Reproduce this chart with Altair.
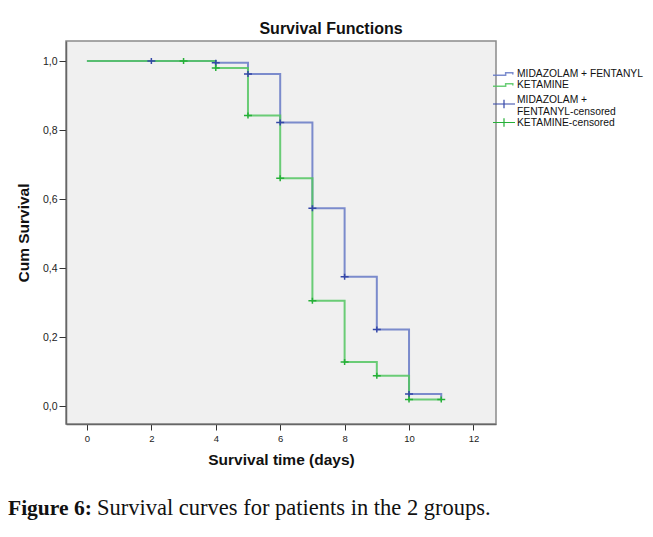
import altair as alt
import pandas as pd

# ---- data ----
series_names = ["MIDAZOLAM + FENTANYL", "KETAMINE"]
censor_names = ["MIDAZOLAM + FENTANYL-censored", "KETAMINE-censored"]

mf_time = [0, 4, 5, 6, 7, 8, 9, 10, 11]
mf_surv = [1.0, 0.995, 0.962, 0.822, 0.573, 0.375, 0.222, 0.035, 0.017]
ket_time = [0, 4, 5, 6, 7, 8, 9, 10, 11]
ket_surv = [1.0, 0.980, 0.842, 0.660, 0.305, 0.128, 0.088, 0.019, 0.019]

mf_cens_time = [2, 4, 5, 6, 7, 8, 9, 10]
mf_cens_surv = [1.0, 0.995, 0.962, 0.822, 0.573, 0.375, 0.222, 0.035]
ket_cens_time = [3, 4, 5, 6, 7, 8, 9, 10, 11]
ket_cens_surv = [1.0, 0.980, 0.842, 0.660, 0.305, 0.128, 0.088, 0.019, 0.019]

x_ticks = [0, 2, 4, 6, 8, 10, 12]
y_ticks = [0.0, 0.2, 0.4, 0.6, 0.8, 1.0]

chart_title = "Survival Functions"
x_title = "Survival time (days)"
y_title = "Cum Survival"
caption_bold = "Figure 6:"
caption_rest = "Survival curves for patients in the 2 groups."

BLUE_LINE = "#6679c6"
GREEN_LINE = "#52c660"
BLUE_MARK = "#3447a8"
GREEN_MARK = "#26b038"

lines_df = pd.concat([
    pd.DataFrame({"t": mf_time, "s": mf_surv, "series": series_names[0], "o": range(len(mf_time))}),
    pd.DataFrame({"t": ket_time, "s": ket_surv, "series": series_names[1], "o": range(len(ket_time))}),
])
mf_cens_df = pd.DataFrame({"t": mf_cens_time, "s": mf_cens_surv, "cens": censor_names[0]})
ket_cens_df = pd.DataFrame({"t": ket_cens_time, "s": ket_cens_surv, "cens": censor_names[1]})

x_scale = alt.Scale(domain=[-0.65, 12.7], nice=False, zero=False)
y_scale = alt.Scale(domain=[-0.052, 1.058], nice=False, zero=False)

x_axis = alt.Axis(values=x_ticks, title=x_title, grid=False, tickSize=6, labelPadding=3,
                  labelFont="Liberation Sans", labelFontSize=9.5, labelColor="#222",
                  titleFont="Liberation Sans", titleFontSize=15.5, titleFontWeight="bold",
                  titleColor="#111", titlePadding=10, domainColor="#666", domainWidth=1.5,
                  tickColor="#333", labelFlush=False)
y_axis = alt.Axis(values=y_ticks, title=y_title, grid=False, tickSize=7, labelPadding=2,
                  labelExpr="replace(format(datum.value, '.1f'), '.', ',')",
                  labelFont="Liberation Sans", labelFontSize=10.5, labelColor="#222",
                  titleFont="Liberation Sans", titleFontSize=15.5, titleFontWeight="bold",
                  titleColor="#111", titlePadding=11, domainColor="#666", domainWidth=1.5,
                  tickColor="#333", labelFlush=False)

step_path = "M-1,0.12H0.15V-0.12H0.8V0.05"
cens_legend_path_low = "M-1,0.41H1M0,0.03V0.79"
cens_legend_path = "M-1,0H1M0,-0.38V0.38"
cross_path = "M-1,0H1M0,-0.75V0.75"

LEG_X = 426
legend_common = dict(title=None, orient="none", legendX=LEG_X, symbolSize=484,
                     symbolFillColor="transparent", labelFont="Liberation Sans",
                     labelFontSize=10.3, labelColor="#111", labelOffset=1, padding=0,
                     symbolOffset=0)

lines = alt.Chart(lines_df).mark_line(interpolate="step-after", strokeWidth=2, opacity=0.85).encode(
    x=alt.X("t:Q", scale=x_scale, axis=x_axis),
    y=alt.Y("s:Q", scale=y_scale, axis=y_axis),
    color=alt.Color("series:N",
                    scale=alt.Scale(domain=series_names, range=[BLUE_LINE, GREEN_LINE]),
                    sort=series_names,
                    legend=alt.Legend(legendY=27.5, symbolType=step_path, symbolStrokeWidth=1.5,
                                      clipHeight=11, rowPadding=0, **legend_common)),
    order="o:Q",
)

mf_marks = alt.Chart(mf_cens_df).mark_point(shape=cross_path, size=64, filled=False, strokeWidth=1.5, opacity=1).encode(
    x=alt.X("t:Q", scale=x_scale),
    y=alt.Y("s:Q", scale=y_scale),
    stroke=alt.Stroke("cens:N",
                      scale=alt.Scale(domain=[censor_names[0]], range=[BLUE_MARK]),
                      legend=alt.Legend(legendY=46.5, symbolType=cens_legend_path_low,
                                        symbolStrokeWidth=1.2,
                                        labelExpr="['MIDAZOLAM +', 'FENTANYL-censored']",
                                        **legend_common)),
)

ket_marks = alt.Chart(ket_cens_df).mark_point(shape=cross_path, size=64, filled=False, strokeWidth=1.5, opacity=1).encode(
    x=alt.X("t:Q", scale=x_scale),
    y=alt.Y("s:Q", scale=y_scale),
    stroke=alt.Stroke("cens:N",
                      scale=alt.Scale(domain=[censor_names[1]], range=[GREEN_MARK]),
                      legend=alt.Legend(legendY=69.5, symbolType=cens_legend_path,
                                        symbolStrokeWidth=1.2, **legend_common)),
)

cap1 = alt.Chart(pd.DataFrame({"c": [caption_bold]})).mark_text(
    align="left", baseline="alphabetic", font="Liberation Serif", fontSize=21.5,
    fontWeight="bold", color="#111"
).encode(text="c:N", x=alt.value(-58), y=alt.value(474))

cap2 = alt.Chart(pd.DataFrame({"c": [caption_rest]})).mark_text(
    align="left", baseline="alphabetic", font="Liberation Serif", fontSize=22.5,
    color="#111"
).encode(text="c:N", x=alt.value(31), y=alt.value(474))

chart = alt.layer(lines, mf_marks, ket_marks, cap1, cap2).resolve_scale(
    stroke="independent"
).resolve_legend(stroke="independent").properties(
    width=430, height=383,
    autosize=alt.AutoSizeParams(type="none"),
    padding={"left": 58, "top": 33, "right": 149, "bottom": 104},
    title=alt.TitleParams(chart_title, font="Liberation Sans", fontSize=16, fontWeight="bold",
                          color="#111", anchor="middle", frame="group", dx=50, offset=4),
).configure_view(fill="#f0f0f0", stroke="#8a8a8a", strokeWidth=1.5)

chart.save("out.html", embed_options={"renderer": "svg", "actions": False})
